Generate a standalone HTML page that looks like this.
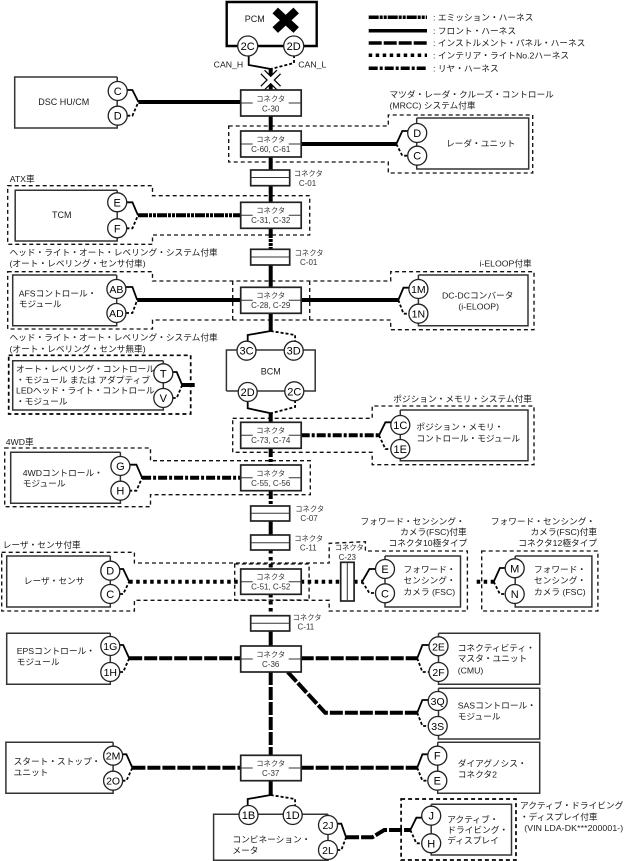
<!DOCTYPE html>
<html><head><meta charset="utf-8"><style>
html,body{margin:0;padding:0;background:#fff}
svg{display:block}
text{font-family:"Liberation Sans","Noto Sans CJK JP",sans-serif;fill:#1a1a1a;font-size:8.7px}
.m{text-anchor:middle}
.e{text-anchor:end}
.c{font-size:8px;text-anchor:middle;fill:#333}
.k{font-size:7.3px}
.n{font-size:11px;text-anchor:middle;fill:#000}
.nn{font-size:10.5px;text-anchor:middle;fill:#000}
.box{fill:none;stroke:#333;stroke-width:1.5}
.grp{fill:none;stroke:#111;stroke-width:1.35;stroke-dasharray:4 3}
.grp2{fill:none;stroke:#000;stroke-width:1.7;stroke-dasharray:4 3}
.lead{fill:none;stroke:#000;stroke-width:1.8}
.leadd{fill:none;stroke:#000;stroke-width:1.8;stroke-dasharray:3 2}
.f,.em,.ip,.in,.re{fill:none;stroke:#000;stroke-width:4}
.em{stroke-dasharray:10 1 3 1 3 1}
.ip{stroke-dasharray:13 2}
.in{stroke-dasharray:3.5 3.5}
.re{stroke-dasharray:9 2 3 2}
.cb{fill:#fff;stroke:#222;stroke-width:1.7}
.tk{stroke:#333;stroke-width:1}
.cir{fill:#fff;stroke:#222;stroke-width:1.3}
</style></head><body>
<svg width="631" height="861" viewBox="0 0 631 861" xmlns="http://www.w3.org/2000/svg">
<g transform="translate(0.7 0)">
<!-- group dashes -->
<path class="grp" d="M228 126H387.6V115H532V173H387.6V162H228Z"/>
<path class="grp" d="M7 185.7H151.8V195.7H309V235H151.8V244.3H7Z"/>
<path class="grp" d="M7 271.7H151.8V281H390V271.7H533.3V329.7H390V320H151.8V329H7Z"/>
<path class="grp" d="M232 281V320M309 281V320"/>
<path class="grp2" d="M8 355.3H190V414H8Z"/>
<path class="grp" d="M232 418.3H371.5V406H533.3V464.7H371.5V452.3H232Z"/>
<path class="grp" d="M4 448H149.8V460.7H309.6V494.7H149.8V506.7H4Z"/>
<path class="grp" d="M1 552.3H133.7V563H328.5V543.3L364.7 541.7V551H466.7V611H328.5V600.3H133.7V611H1Z"/>
<path class="grp" d="M234 564H308.4V600H234Z"/>
<path class="grp" d="M481 551H597.2V611H481Z"/>
<path class="grp2" d="M400.4 799H515.3V860H400.4Z"/>

<!-- bus -->
<path class="f" d="M270 69V90"/>
<path class="f" d="M270 116V131M270 157V171M270 186V202"/>
<path class="em" d="M270 228V250"/>
<path class="f" d="M270 265V288M270 313V331"/>
<path class="re" d="M270 413V423M270 448V466M270 490V507"/>
<path class="f" d="M270 521V536"/>
<path class="in" d="M270 550V570M270 594V616"/>
<path class="f" d="M270 631V647"/>
<path class="ip" d="M270 672V756"/>
<path class="f" d="M270 780V795"/>

<!-- horizontal harnesses -->
<path class="f" d="M137.7 102H240"/>
<path class="f" d="M300 144H395.6"/>
<path class="em" d="M137.3 215.3H240"/>
<path class="f" d="M136.5 300H240M300 300H397.6"/>
<path class="f" d="M181.5 385H194"/>
<path class="re" d="M300 435.3H378.3"/>
<path class="re" d="M141.4 477.7H240"/>
<path class="in" d="M128.5 581.7H240M300 581.7H340M353.4 581.7H361.4M476 581.7H493"/>
<path class="ip" d="M128.5 658.3H240M300 658.3H416.5"/>
<path class="ip" d="M287 672L324.5 712.7H416.5"/>
<path class="ip" d="M131.7 767.7H240M300 767.7H416.5"/>
<path class="ip" d="M345.4 837.3H371.5L383.5 830H409.6"/>

<!-- leads solid -->
<g class="lead">
<path d="M248 55V65L270 69"/>
<path d="M126.5 90H131.7L137.7 102"/>
<path d="M395.6 144L401.6 131H410"/>
<path d="M125.7 202.3H131.7L137.3 215.3"/>
<path d="M125.3 287H131.7L136.5 300"/>
<path d="M397.6 300L402.8 287.7H410"/>
<path d="M270 331L247 335V342"/>
<path d="M247 400V408.3L270 413.3"/>
<path d="M378.3 435.3L384.7 422.3H392"/>
<path d="M172 372H176L181.5 385"/>
<path d="M128.5 464.7H135.7L141.4 477.7"/>
<path d="M119.3 569H122.5L128.5 581.7"/>
<path d="M361.4 581.7L368.7 569H376"/>
<path d="M493 581.7L499.2 568H506"/>
<path d="M119.3 645H122.5L128.5 658.3"/>
<path d="M416.5 658.3L421.7 645H430"/>
<path d="M416.5 712.7L421.7 700H430"/>
<path d="M121.7 754.3H125.7L131.7 767.7"/>
<path d="M416.5 767.7L421.7 754.3H430"/>
<path d="M270 795L247 799V806"/>
<path d="M336.5 823.7H340.6L345.4 837.3"/>
<path d="M409.6 830L415.7 817.7H424"/>
</g>
<!-- leads dashed -->
<g class="leadd">
<path d="M293.3 55V63L270 69"/>
<path d="M126.5 115.7H131.7L137.7 102"/>
<path d="M395.6 144L401.6 155.7H410"/>
<path d="M125.7 228.3H131.7L137.3 215.3"/>
<path d="M125.3 313H131.7L136.5 300"/>
<path d="M397.6 300L402.8 313.7H410"/>
<path d="M270 331L294.4 335V342"/>
<path d="M294.4 400V407L270 413.3"/>
<path d="M378.3 435.3L384.7 449H392"/>
<path d="M172 398H176L181.5 385"/>
<path d="M128.5 490.7H135.7L141.4 477.7"/>
<path d="M119.3 594H122.5L128.5 581.7"/>
<path d="M361.4 581.7L368.7 593H376"/>
<path d="M493 581.7L499.2 594H506"/>
<path d="M119.3 672H122.5L128.5 658.3"/>
<path d="M416.5 658.3L421.7 672H430"/>
<path d="M416.5 712.7L421.7 726H430"/>
<path d="M121.7 780.7H125.7L131.7 767.7"/>
<path d="M416.5 767.7L421.7 780.7H430"/>
<path d="M270 795L294.4 799V806"/>
<path d="M336.5 850H340.6L345.4 837.3"/>
<path d="M409.6 830L415.7 843.3H424"/>
</g>

<!-- PCM -->
<path d="M226 46V2H316V46Z" fill="none" stroke="#000" stroke-width="2.4"/>
<text class="m" x="254" y="22" style="font-size:9px">PCM</text>
<path d="M274.5 10.5L295.5 30M295.5 10.5L274.5 30" stroke="#000" stroke-width="8" fill="none"/>
<!-- white X -->
<g fill="none">
<path d="M262 72L278 88M278 72L262 88" stroke="#000" stroke-width="6.5"/>
<path d="M262 72L278 88M278 72L262 88" stroke="#fff" stroke-width="4"/>
</g>

<!-- Module boxes -->
<g class="box">
<path d="M116.5 77H14V128H116.5V77"/>
<path d="M416 118H528V169H416V118"/>
<path d="M116.5 190.3H14.5V241H116.5V190.3"/>
<path d="M116 275H12V325.7H116V275"/>
<path d="M417.7 275H527.3V325.7H417.7V275"/>
<path d="M225.7 391V350H314.5V391H225.7"/>
<path d="M162.6 360.7H12V410H162.6V360.7"/>
<path d="M399.6 410H527.3V460.7H399.6V410"/>
<path d="M119.7 452.3H10V503.3H119.7V452.3"/>
<path d="M109.6 556H6V607H109.6V556"/>
<path d="M384.3 556H459.8V607H384.3V556"/>
<path d="M514.5 556H591.2V607H514.5V556"/>
<path d="M109.6 633.3H6V684.3H109.6V633.3"/>
<path d="M437.8 633.3H539V684.3H437.8V633.3"/>
<path d="M437.8 688.3H539V739H437.8V688.3"/>
<path d="M112.4 742.3H5.2V793.3H112.4V742.3"/>
<path d="M437 742.3H539V793.3H437V742.3"/>
<path d="M327.3 814.3H212.9V860.3H327.3V814.3"/>
<path d="M430.5 804.3H510.8V855H430.5V804.3"/>
</g>

<!-- connector boxes -->
<g>
<rect class="cb" x="240" y="90" width="60.5" height="26"/>
<rect class="cb" x="240" y="131" width="60.5" height="26"/>
<rect class="cb" x="240" y="202.3" width="60.5" height="26"/>
<rect class="cb" x="240" y="287.3" width="60.5" height="26"/>
<rect class="cb" x="240" y="422.3" width="60.5" height="26"/>
<rect class="cb" x="240" y="465" width="60.5" height="25.7"/>
<rect class="cb" x="240" y="569" width="60.5" height="25.3"/>
<rect class="cb" x="240" y="646" width="60.5" height="26"/>
<rect class="cb" x="240" y="755.3" width="60.5" height="25.4"/>
<path class="tk" d="M240 103H252M288 103H300.5M240 144H252M288 144H300.5M240 215.3H252M288 215.3H300.5M240 300.3H252M288 300.3H300.5M240 435.3H252M288 435.3H300.5M240 477.8H252M288 477.8H300.5M240 581.7H252M288 581.7H300.5M240 659H252M288 659H300.5M240 768H252M288 768H300.5"/>
</g>
<!-- inline connectors -->
<g>
<rect class="cb" x="250" y="170" width="39" height="15.7"/><path class="tk" d="M250 177.5H289"/>
<rect class="cb" x="250" y="249.3" width="39" height="15.7"/><path class="tk" d="M250 257H289"/>
<rect class="cb" x="250" y="506" width="39" height="15"/><path class="tk" d="M250 513.3H289"/>
<rect class="cb" x="250" y="535" width="39" height="15"/><path class="tk" d="M250 542.7H289"/>
<rect class="cb" x="250" y="615.7" width="39" height="15.3"/><path class="tk" d="M250 623.3H289"/>
<rect class="cb" x="340" y="562.3" width="13.4" height="38.7"/><path class="tk" d="M346.6 562.3V601"/>
</g>

<!-- circles -->
<g class="cir">
<circle cx="247" cy="46" r="10"/><circle cx="293" cy="46" r="10"/>
<circle cx="117" cy="91" r="9.5"/><circle cx="117" cy="115.7" r="9.5"/>
<circle cx="416.5" cy="133" r="9.5"/><circle cx="416.5" cy="155.7" r="9.5"/>
<circle cx="116.5" cy="202.3" r="9.5"/><circle cx="116.5" cy="228.3" r="9.5"/>
<circle cx="115.7" cy="289" r="9.5"/><circle cx="115.7" cy="313" r="9.5"/>
<circle cx="417.7" cy="289" r="9.5"/><circle cx="417.7" cy="313.7" r="9.5"/>
<circle cx="245.8" cy="350.7" r="9.5"/><circle cx="293" cy="350.7" r="9.5"/>
<circle cx="247" cy="392" r="9.5"/><circle cx="293.6" cy="391.3" r="9.5"/>
<circle cx="162.6" cy="373.3" r="9.5"/><circle cx="162.6" cy="398" r="9.5"/>
<circle cx="399.6" cy="425" r="9.5"/><circle cx="399.6" cy="449" r="9.5"/>
<circle cx="119.7" cy="466" r="9.5"/><circle cx="119.7" cy="490.7" r="9.5"/>
<circle cx="109.6" cy="570.7" r="9.5"/><circle cx="109.6" cy="594" r="9.5"/>
<circle cx="384.3" cy="569" r="9.5"/><circle cx="384.3" cy="593.3" r="9.5"/>
<circle cx="514" cy="568.3" r="9.5"/><circle cx="514" cy="594" r="9.5"/>
<circle cx="109.6" cy="646" r="9.5"/><circle cx="109.6" cy="672" r="9.5"/>
<circle cx="437.8" cy="646.3" r="9.5"/><circle cx="437.8" cy="672" r="9.5"/>
<circle cx="437" cy="701" r="9.5"/><circle cx="437" cy="726" r="9.5"/>
<circle cx="112.4" cy="755.7" r="9.5"/><circle cx="112.4" cy="780.7" r="9.5"/>
<circle cx="436.6" cy="755.7" r="9.5"/><circle cx="436.6" cy="780.7" r="9.5"/>
<circle cx="247.8" cy="815" r="9.5"/><circle cx="292" cy="815" r="9.5"/>
<circle cx="327.3" cy="825" r="9.5"/><circle cx="327.3" cy="850" r="9.5"/>
<circle cx="430.5" cy="815.7" r="9.5"/><circle cx="430.5" cy="843.3" r="9.5"/>
</g>
<!-- circle labels -->
<text class="n" x="247" y="50">2C</text><text class="n" x="293" y="50">2D</text>
<text class="n" x="117" y="95">C</text><text class="n" x="117" y="119.7">D</text>
<text class="n" x="416.5" y="137">D</text><text class="n" x="416.5" y="159.7">C</text>
<text class="n" x="116.5" y="206.3">E</text><text class="n" x="116.5" y="232.3">F</text>
<text class="nn" x="115.7" y="293">AB</text><text class="nn" x="115.7" y="317">AD</text>
<text class="nn" x="417.7" y="293">1M</text><text class="nn" x="417.7" y="317.7">1N</text>
<text class="n" x="245.8" y="354.7">3C</text><text class="n" x="293" y="354.7">3D</text>
<text class="n" x="247" y="396">2D</text><text class="n" x="293.6" y="395.3">2C</text>
<text class="n" x="162.6" y="377.3">T</text><text class="n" x="162.6" y="402">V</text>
<text class="n" x="399.6" y="429">1C</text><text class="n" x="399.6" y="453">1E</text>
<text class="n" x="119.7" y="470">G</text><text class="n" x="119.7" y="494.7">H</text>
<text class="n" x="109.6" y="574.7">D</text><text class="n" x="109.6" y="598">C</text>
<text class="n" x="384.3" y="573">E</text><text class="n" x="384.3" y="597.3">C</text>
<text class="n" x="514" y="572.3">M</text><text class="n" x="514" y="598">N</text>
<text class="nn" x="109.6" y="650">1G</text><text class="nn" x="109.6" y="676">1H</text>
<text class="nn" x="437.8" y="650.3">2E</text><text class="nn" x="437.8" y="676">2F</text>
<text class="nn" x="437" y="705">3Q</text><text class="nn" x="437" y="730">3S</text>
<text class="nn" x="112.4" y="759.7">2M</text><text class="nn" x="112.4" y="784.7">2O</text>
<text class="n" x="436.6" y="759.7">F</text><text class="n" x="436.6" y="784.7">E</text>
<text class="n" x="247.8" y="819">1B</text><text class="n" x="292" y="819">1D</text>
<text class="nn" x="327.3" y="829">2J</text><text class="nn" x="327.3" y="854">2L</text>
<text class="n" x="430.5" y="819.7">J</text><text class="n" x="430.5" y="847.3">H</text>

<!-- connector labels -->
<text class="c k" x="270" y="101.5">コネクタ</text><text class="c" x="270" y="111.5">C-30</text>
<text class="c k" x="270" y="142">コネクタ</text><text class="c" x="270" y="152">C-60, C-61</text>
<text class="c k" x="270" y="213">コネクタ</text><text class="c" x="270" y="223">C-31, C-32</text>
<text class="c k" x="270" y="298">コネクタ</text><text class="c" x="270" y="308">C-28, C-29</text>
<text class="c k" x="270" y="433">コネクタ</text><text class="c" x="270" y="443">C-73, C-74</text>
<text class="c k" x="270" y="476">コネクタ</text><text class="c" x="270" y="486">C-55, C-56</text>
<text class="c k" x="270" y="579.5">コネクタ</text><text class="c" x="270" y="589.5">C-51, C-52</text>
<text class="c k" x="270" y="657">コネクタ</text><text class="c" x="270" y="667">C-36</text>
<text class="c k" x="270" y="766">コネクタ</text><text class="c" x="270" y="776">C-37</text>
<text class="c k" x="307.6" y="176">コネクタ</text><text class="c" x="306.8" y="186">C-01</text>
<text class="c k" x="308.4" y="255.5">コネクタ</text><text class="c" x="308" y="265">C-01</text>
<text class="c k" x="309" y="511.5">コネクタ</text><text class="c" x="308.4" y="521">C-07</text>
<text class="c k" x="308" y="541">コネクタ</text><text class="c" x="307.6" y="550.5">C-11</text>
<text class="c k" x="306.4" y="620">コネクタ</text><text class="c" x="305.2" y="629.5">C-11</text>
<text class="c k" x="348.6" y="550">コネクタ</text><text class="c" x="346.6" y="560">C-23</text>

<!-- module labels -->
<text class="m" x="227.7" y="67.5">CAN_H</text>
<text class="m" x="311.6" y="67.5">CAN_L</text>
<text class="m" x="63" y="105" style="font-size:9px">DSC HU/CM</text>
<text class="m" x="480" y="146.5">レーダ・ユニット</text>
<text class="m" x="61" y="218" style="font-size:9px">TCM</text>
<text x="18" y="296.5">AFSコントロール・</text><text x="18" y="307">モジュール</text>
<text class="m" x="477" y="298.5">DC-DCコンバータ</text><text class="m" x="478" y="309.5">(i-ELOOP)</text>
<text class="m" x="270" y="374.5" style="font-size:9px">BCM</text>
<text x="15.3" y="372">オート・レベリング・コントロール</text>
<text x="15.3" y="383">・モジュール または アダプティブ</text>
<text x="15.3" y="393.5">LEDヘッド・ライト・コントロール</text>
<text x="15.3" y="404.5">・モジュール</text>
<text x="415.7" y="430">ポジション・メモリ・</text>
<text x="415.7" y="441.5">コントロール・モジュール</text>
<text x="22" y="476">4WDコントロール・</text><text x="22" y="486.5">モジュール</text>
<text class="m" x="53.4" y="584">レーザ・センサ</text>
<text x="402.8" y="572.5">フォワード・</text><text x="402.8" y="583.5">センシング・</text><text x="402.8" y="595">カメラ (FSC)</text>
<text x="533.3" y="572.5">フォワード・</text><text x="533.3" y="583.5">センシング・</text><text x="533.3" y="595">カメラ (FSC)</text>
<text x="16" y="654">EPSコントロール・</text><text x="16" y="665">モジュール</text>
<text x="457" y="651">コネクティビティ・</text><text x="457" y="661.5">マスタ・ユニット</text><text x="457" y="673.5">(CMU)</text>
<text x="457" y="708.5">SASコントロール・</text><text x="457" y="719.5">モジュール</text>
<text x="12.9" y="764.5">スタート・ストップ・</text><text x="12.9" y="775.5">ユニット</text>
<text x="457" y="766.5">ダイアグノシス・</text><text x="457" y="777.5">コネクタ2</text>
<text x="231.7" y="842.5">コンビネーション・</text><text x="231.7" y="853.5">メータ</text>
<text x="446.6" y="822.5">アクティブ・</text><text x="446.6" y="833">ドライビング・</text><text x="446.6" y="843.5">ディスプレイ</text>

<!-- annotations -->
<text x="388.8" y="97.5">マツダ・レーダ・クルーズ・コントロール</text>
<text x="388.8" y="108.5">(MRCC) システム付車</text>
<text x="9" y="182">ATX車</text>
<text x="8.8" y="255.5">ヘッド・ライト・オート・レベリング・システム付車</text>
<text x="8.8" y="266.5">(オート・レベリング・センサ付車)</text>
<text class="e" x="531" y="266.5">i-ELOOP付車</text>
<text x="8.8" y="340.5">ヘッド・ライト・オート・レベリング・システム付車</text>
<text x="8.8" y="352">(オート・レベリング・センサ無車)</text>
<text class="e" x="531.3" y="402">ポジション・メモリ・システム付車</text>
<text x="5" y="445">4WD車</text>
<text x="2" y="548">レーザ・センサ付車</text>
<text class="e" x="464" y="524.5">フォワード・センシング・</text>
<text class="e" x="466" y="535">カメラ(FSC)付車</text>
<text class="e" x="466.7" y="546">コネクタ10極タイプ</text>
<text class="e" x="594.4" y="524.5">フォワード・センシング・</text>
<text class="e" x="596.4" y="535">カメラ(FSC)付車</text>
<text class="e" x="596.4" y="546">コネクタ12極タイプ</text>
<text x="519.3" y="808.5">アクティブ・ドライビング</text>
<text x="519.3" y="820">・ディスプレイ付車</text>
<text x="523.5" y="831" textLength="99" lengthAdjust="spacing">(VIN LDA-DK***200001-)</text>
</g>

<!-- legend -->
<path class="em" style="stroke-width:3.5" d="M368.7 17.3H427"/>
<path class="f" style="stroke-width:3.5" d="M368.7 30.7H427"/>
<path class="ip" style="stroke-width:3.5" d="M368.7 43H427"/>
<path class="in" style="stroke-width:3.5" d="M368.7 55.3H427"/>
<path class="re" style="stroke-width:3.5" d="M368.7 68.3H427"/>
<text x="433" y="20.5">: エミッション・ハーネス</text>
<text x="433" y="34">: フロント・ハーネス</text>
<text x="433" y="46">: インストルメント・パネル・ハーネス</text>
<text x="433" y="58.5">: インテリア・ライトNo.2ハーネス</text>
<text x="433" y="71.5">: リヤ・ハーネス</text>
</svg>
</body></html>
